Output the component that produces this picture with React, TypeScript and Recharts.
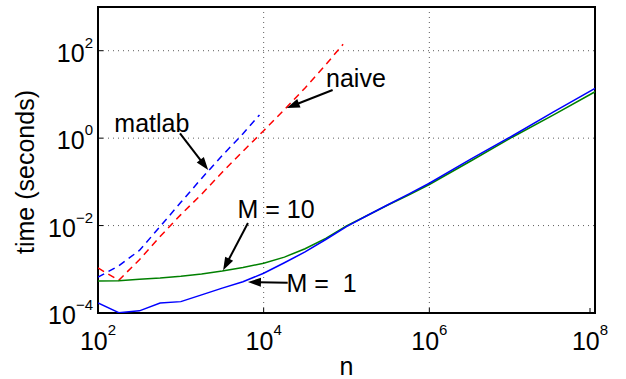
import {
  LineChart,
  Line,
  XAxis,
  YAxis,
  CartesianGrid,
  ReferenceArea,
  ReferenceLine,
  ReferenceDot,
} from 'recharts'

const FONT = '"Liberation Sans", Arial, Helvetica, sans-serif'

// problem size n
const nGrid = [
  1e2, 1.78e2, 3.16e2, 5.62e2, 1e3, 1.78e3, 3.16e3, 5.62e3, 1e4, 1.78e4, 3.16e4,
  5.62e4, 1e5, 1.78e5, 3.16e5, 5.62e5, 1e6, 3.16e6, 1e7, 3.16e7, 1e8,
]
const nNaive = [1e2, 1.78e2, 3.16e2, 5.62e2, 1e3, 1.78e3, 3.16e3, 5.62e3, 1e4, 1.78e4, 3.16e4, 5.62e4, 9.1e4]
const nMatlab = [1e2, 1.78e2, 3.16e2, 5.62e2, 1e3, 1.78e3, 3.16e3, 5.62e3, 8.9e3]

// time in seconds
const tNaive = [1.07e-3, 5.6e-4, 1.66e-3, 5.6e-3, 1.78e-2, 5.2e-2, 0.166, 0.5, 1.48, 4.5, 14.1, 47.9, 141]
const tMatlab = [6.6e-4, 1.2e-3, 2.7e-3, 9.5e-3, 3.4e-2, 0.12, 0.4, 1.26, 3.4]
const tM10 = [
  5.4e-4, 5.5e-4, 5.9e-4, 6.3e-4, 6.9e-4, 7.8e-4, 9.1e-4, 1.1e-3, 1.38e-3, 1.9e-3, 2.95e-3,
  5.1e-3, 9.8e-3, 1.7e-2, 2.95e-2, 5.0e-2, 8.7e-2, 0.3, 1.05, 3.4, 11.5,
]
const tM1 = [
  1.7e-4, 1.02e-4, 1.12e-4, 1.7e-4, 1.82e-4, 2.6e-4, 3.7e-4, 5.2e-4, 8.1e-4, 1.41e-3, 2.5e-3,
  4.8e-3, 9.5e-3, 1.7e-2, 3.0e-2, 5.25e-2, 9.3e-2, 0.33, 1.12, 4.0, 13.8,
]

const xTicks = [1e2, 1e4, 1e6, 1e8]
const xTickExps = ['2', '4', '6', '8']
const yTicks = [1e-4, 1e-2, 1e0, 1e2]
const yTickExps = ['\u22124', '\u22122', '0', '2']

// annotations: text position and arrow tail -> head, in data units
const notes = [
  { text: 'naive', at: [1.3e5, 14.8], tail: [6.8e4, 12.6], head: [1.9e4, 4.9] },
  { text: 'matlab', at: [447, 1.38], tail: [977, 1.29], head: [2140, 0.186] },
  { text: 'M = 10', at: [1.41e4, 1.48e-2], tail: [6460, 1.15e-2], head: [3240, 9.5e-4] },
  { text: 'M =  1', at: [5.0e4, 3.0e-4], tail: [1.95e4, 4.9e-4], head: [6460, 5.1e-4] },
]

const naiveData = nNaive.map((n, i) => ({ n, t: tNaive[i] }))
const matlabData = nMatlab.map((n, i) => ({ n, t: tMatlab[i] }))
const m10Data = nGrid.map((n, i) => ({ n, t: tM10[i] }))
const m1Data = nGrid.map((n, i) => ({ n, t: tM1[i] }))

const XTick = (props: any) => {
  const { x, y, index } = props
  return (
    <g>
      <line x1={x} y1={y} x2={x} y2={y - 5} stroke="#000" />
      <text x={x} y={y + 37} textAnchor="middle" fontFamily={FONT} fontSize={25} fill="#000">
        <tspan>10</tspan>
        <tspan dy={-15} fontSize={15}>{xTickExps[index]}</tspan>
      </text>
    </g>
  )
}

const YTick = (props: any) => {
  const { x, y, index } = props
  return (
    <g>
      <line x1={x} y1={y} x2={x + 5} y2={y} stroke="#000" />
      <text x={x - 5} y={y + 11} textAnchor="end" fontFamily={FONT} fontSize={25} fill="#000">
        <tspan>10</tspan>
        <tspan dy={-14} fontSize={15}>{yTickExps[index]}</tspan>
      </text>
    </g>
  )
}

const Arrow = (props: any) => {
  const { x1, y1, x2, y2 } = props
  const dx = x2 - x1
  const dy = y2 - y1
  const len = Math.sqrt(dx * dx + dy * dy) || 1
  const ux = dx / len
  const uy = dy / len
  const hl = 13
  const hw = 4.5
  const bx = x2 - ux * hl
  const by = y2 - uy * hl
  return (
    <g>
      <line x1={x1} y1={y1} x2={bx + ux * 2} y2={by + uy * 2} stroke="#000" strokeWidth={2} />
      <polygon
        points={`${x2},${y2} ${bx - uy * hw},${by + ux * hw} ${bx + uy * hw},${by - ux * hw}`}
        fill="#000"
      />
    </g>
  )
}

export default function App() {
  return (
    <div style={{ position: 'absolute', left: 0, top: 0, fontFamily: FONT }}>
      <LineChart width={626} height={379} margin={{ top: 7, right: 31, left: 0, bottom: 26 }}>
        <CartesianGrid stroke="#333" strokeDasharray="1 4" strokeWidth={0.8} />
        <XAxis
          dataKey="n"
          type="number"
          scale="log"
          domain={[1e2, 1e8]}
          ticks={xTicks}
          allowDataOverflow
          height={40}
          axisLine={false}
          tickLine={false}
          tickSize={0}
          tickMargin={0}
          tick={<XTick />}
          label={{
            content: (p: any) => (
              <text
                x={p.viewBox.x + p.viewBox.width / 2}
                y={p.viewBox.y + 62}
                textAnchor="middle"
                fontFamily={FONT}
                fontSize={25}
              >
                n
              </text>
            ),
          }}
        />
        <XAxis
          xAxisId="top"
          orientation="top"
          type="number"
          scale="log"
          domain={[1e2, 1e8]}
          ticks={xTicks}
          allowDataOverflow
          mirror
          height={0}
          axisLine={false}
          tick={false}
          tickSize={5}
          tickLine={{ stroke: '#000' }}
        />
        <YAxis
          type="number"
          scale="log"
          domain={[1e-4, 1e3]}
          ticks={yTicks}
          allowDataOverflow
          width={98}
          axisLine={false}
          tickLine={false}
          tickSize={0}
          tickMargin={0}
          tick={<YTick />}
          label={{
            content: (p: any) => (
              <text
                x={25}
                y={p.viewBox.y + p.viewBox.height / 2 + 12}
                transform={`rotate(-90 25 ${p.viewBox.y + p.viewBox.height / 2 + 12})`}
                textAnchor="middle"
                dominantBaseline="central"
                fontFamily={FONT}
                fontSize={25}
              >
                time (seconds)
              </text>
            ),
          }}
        />
        <YAxis
          yAxisId="right"
          orientation="right"
          type="number"
          scale="log"
          domain={[1e-4, 1e3]}
          ticks={yTicks}
          allowDataOverflow
          mirror
          width={0}
          axisLine={false}
          tick={false}
          tickSize={5}
          tickLine={{ stroke: '#000' }}
        />
        <Line data={naiveData} dataKey="t" stroke="#ff0000" strokeWidth={1.5} strokeDasharray="7 5" dot={false} isAnimationActive={false} />
        <Line data={matlabData} dataKey="t" stroke="#0000ff" strokeWidth={1.5} strokeDasharray="7 5" dot={false} isAnimationActive={false} />
        <Line data={m10Data} dataKey="t" stroke="#008000" strokeWidth={1.5} dot={false} isAnimationActive={false} />
        <Line data={m1Data} dataKey="t" stroke="#0000ff" strokeWidth={1.5} dot={false} isAnimationActive={false} />
        {notes.map((a) => (
          <ReferenceLine
            key={a.text + 'arrow'}
            segment={[
              { x: a.tail[0], y: a.tail[1] },
              { x: a.head[0], y: a.head[1] },
            ]}
            shape={<Arrow />}
          />
        ))}
        {notes.map((a) => (
          <ReferenceDot
            key={a.text}
            x={a.at[0]}
            y={a.at[1]}
            r={0}
            shape={(p: any) => (
              <text
                x={p.cx}
                y={p.cy}
                textAnchor="middle"
                fontFamily={FONT}
                fontSize={25}
                fill="#000"
                style={{ whiteSpace: 'pre' }}
              >
                {a.text}
              </text>
            )}
          />
        ))}
        <ReferenceArea x1={1e2} x2={1e8} y1={1e-4} y2={1e3} fill="none" stroke="#000" strokeWidth={2} />
      </LineChart>
    </div>
  )
}
